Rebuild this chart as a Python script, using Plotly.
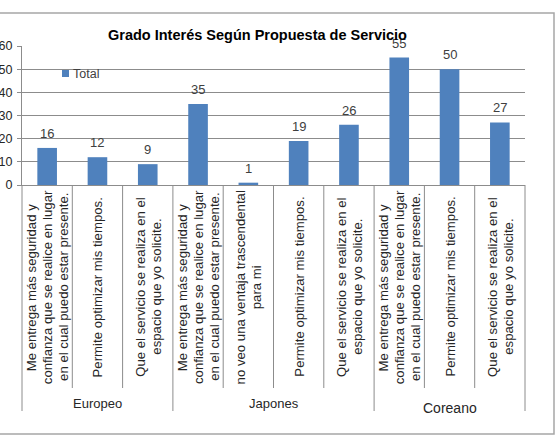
import plotly.graph_objects as go

# ---- data ----
groups = ["Europeo", "Europeo", "Europeo",
          "Japones", "Japones", "Japones", "Japones",
          "Coreano", "Coreano", "Coreano"]
categories = [
    "Me entrega más seguridad y<br>confianza que se realice en lugar<br>en el cual puedo estar presente.",
    "Permite optimizar mis tiempos.",
    "Que el servicio se realiza en el<br>espacio que yo solicite.",
    "Me entrega más seguridad y<br>confianza que se realice en lugar<br>en el cual puedo estar presente.",
    "no veo una ventaja trascendental<br>para mi",
    "Permite optimizar mis tiempos.",
    "Que el servicio se realiza en el<br>espacio que yo solicite.",
    "Me entrega más seguridad y<br>confianza que se realice en lugar<br>en el cual puedo estar presente.",
    "Permite optimizar mis tiempos.",
    "Que el servicio se realiza en el<br>espacio que yo solicite.",
]
values = [16, 12, 9, 35, 1, 19, 26, 55, 50, 27]
series_name = "Total"
title_text = "Grado Interés Según Propuesta de Servicio"
page_heading_fragment = "según propuesta"   # cut-off heading text above the chart
y_ticks = [0, 10, 20, 30, 40, 50, 60]

# ---- layout geometry (pixels) ----
W, H = 559, 438
L, R, T, B = 22, 525, 46, 185
FONT = "Liberation Sans, Arial, sans-serif"
BAR = "#4F81BD"
GRID = "#8C8C8C"
TXT = "#262626"
LINE_STEP = 15.8

def px_x(p):
    return (p - L) / (R - L)

def px_y(p):
    return (B - p) / (B - T)

idx = list(range(len(values)))

fig = go.Figure()
fig.add_trace(go.Bar(x=idx, y=values, name=series_name, marker_color=BAR,
                     marker_line_width=0, showlegend=False))

annotations = []
# data labels
for i, v in zip(idx, values):
    annotations.append(dict(x=i, y=v, xref="x", yref="y", text=str(v),
                            showarrow=False, yanchor="bottom", yshift=5,
                            font=dict(family=FONT, size=13, color="#404040")))
# category labels (rotated, one annotation per line so lines stay centred)
for i, c in zip(idx, categories):
    lines = c.split("<br>")
    n = len(lines)
    for k, ln in enumerate(lines):
        annotations.append(dict(x=i, y=px_y(287), xref="x", yref="paper", text=ln,
                                showarrow=False, textangle=-90, yanchor="middle",
                                xanchor="center", xshift=(k - (n - 1) / 2) * LINE_STEP,
                                font=dict(family=FONT, size=13.2, color=TXT)))
# group labels
order = []
for g in groups:
    if g not in order:
        order.append(g)
shapes = []
for g in order:
    members = [i for i, gg in zip(idx, groups) if gg == g]
    center = sum(members) / len(members)
    big = g == "Coreano"
    annotations.append(dict(x=center, y=px_y(408 if big else 403), xref="x", yref="paper",
                            text=g, showarrow=False, yanchor="middle",
                            font=dict(family=FONT, size=14 if big else 13, color=TXT)))
# category / group boundaries
for i in idx[1:]:
    boundary_group = groups[i] != groups[i - 1]
    shapes.append(dict(type="line", xref="x", yref="paper", x0=i - 0.5, x1=i - 0.5,
                       y0=0, y1=px_y(411 if boundary_group else 388),
                       line=dict(color=GRID, width=1)))
for xp in (0, 1):
    shapes.append(dict(type="line", xref="paper", yref="paper", x0=xp, x1=xp,
                       y0=0, y1=px_y(411), line=dict(color=GRID, width=1)))
# outer chart border
shapes.append(dict(type="rect", xref="paper", yref="paper",
                   x0=px_x(-3), x1=px_x(554), y0=px_y(13), y1=px_y(434),
                   line=dict(color="#A6A6A6", width=1.5)))
# manual legend
shapes.append(dict(type="rect", xref="paper", yref="paper",
                   x0=px_x(62), x1=px_x(69), y0=px_y(70), y1=px_y(77),
                   fillcolor=BAR, line=dict(width=0)))
annotations.append(dict(x=px_x(71), y=px_y(73.5), xref="paper", yref="paper",
                        text=series_name, showarrow=False, xanchor="left", yanchor="middle",
                        font=dict(family=FONT, size=12.5, color="#404040")))
# title
annotations.append(dict(x=px_x(257.5), y=px_y(35), xref="paper", yref="paper",
                        text="<b>" + title_text + "</b>", showarrow=False,
                        xanchor="center", yanchor="middle",
                        font=dict(family=FONT, size=14.5, color="#000000")))
# heading of the page above, cut off at the top edge (only descenders visible)
annotations.append(dict(x=px_x(282), y=px_y(1.5), xref="paper", yref="paper",
                        text="<b>" + page_heading_fragment + "</b>", showarrow=False,
                        xanchor="left", yanchor="bottom",
                        font=dict(family=FONT, size=15.5, color="#000000")))

fig.update_layout(
    width=W, height=H,
    margin=dict(l=L, r=W - R, t=T, b=H - B, pad=0, autoexpand=False),
    paper_bgcolor="white", plot_bgcolor="white",
    bargap=0.61,
    annotations=annotations, shapes=shapes,
    font=dict(family=FONT, size=12, color=TXT),
)
fig.update_xaxes(range=[-0.5, len(values) - 0.5], showticklabels=False, showgrid=False,
                 zeroline=False, showline=True, linecolor=GRID, linewidth=1, ticks="",
                 automargin=False)
fig.update_yaxes(range=[0, 60], tickvals=y_ticks, showgrid=True, gridcolor=GRID, gridwidth=1,
                 zeroline=False, showline=True, linecolor=GRID, linewidth=1,
                 ticks="outside", ticklen=4, tickcolor=GRID, ticklabelstandoff=2,
                 tickfont=dict(family=FONT, size=12.5, color=TXT), automargin=False)

fig.write_html("out.html")
